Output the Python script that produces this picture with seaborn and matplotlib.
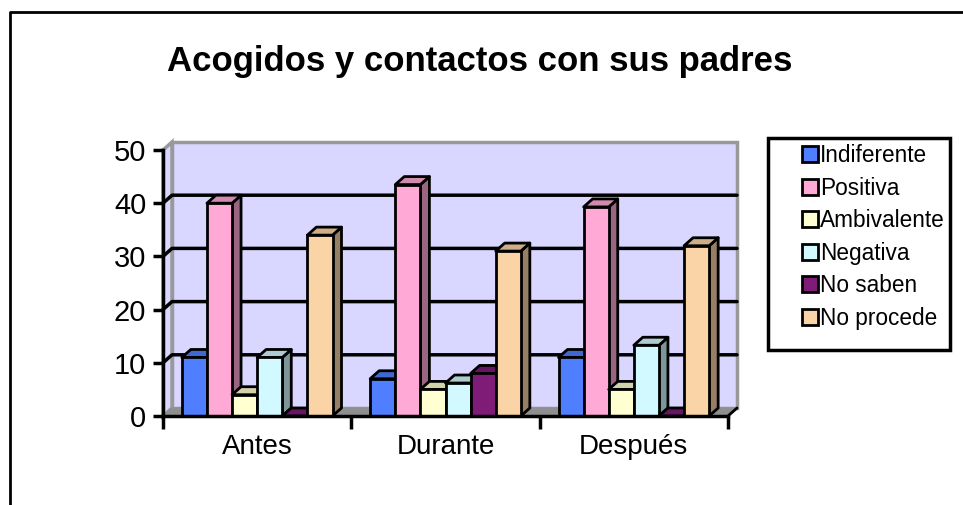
import numpy as np
import pandas as pd
import matplotlib
matplotlib.use("Agg")
import matplotlib.pyplot as plt
from matplotlib.patches import Polygon, Rectangle
from matplotlib.lines import Line2D
from matplotlib.colors import to_rgb
import seaborn as sns

# ---------- data ----------
periodos = ["Antes", "Durante", "Después"]
actitudes = ["Indiferente", "Positiva", "Ambivalente", "Negativa", "No saben", "No procede"]
indiferente = [11, 7, 11]
positiva = [40, 43.5, 39.3]
ambivalente = [4, 5, 5]
negativa = [11, 6.2, 13.3]
no_saben = [0, 8, 0]
no_procede = [34, 31, 32]
colores = ["#4F7FFF", "#FFA9D6", "#FFFFD2", "#D2F9FF", "#7E1C78", "#FAD4A6"]

series = [indiferente, positiva, ambivalente, negativa, no_saben, no_procede]
rows = []
for nombre, vals in zip(actitudes, series):
    for p, v in zip(periodos, vals):
        rows.append({"periodo": p, "actitud": nombre, "valor": v})
df = pd.DataFrame(rows)

sns.set_theme(style="white")
plt.rcParams["font.family"] = ["Liberation Sans", "DejaVu Sans"]

W, H = 963, 505
fig = plt.figure(figsize=(W / 100, H / 100), dpi=100)
ax = fig.add_axes([163 / W, (H - 416) / H, 565 / W, 266 / H])
ax.set_facecolor("none")

sns.barplot(data=df, x="periodo", y="valor", hue="actitud", hue_order=actitudes,
            order=periodos, palette=colores, width=0.8, errorbar=None,
            edgecolor="black", linewidth=2, saturation=1, ax=ax)
ax.set_ylim(0, 50)
ax.set_xlim(-0.5, 2.5)

# depth of the fake 3d in data units (9 px right, 8 px up)
dx = 9 / 565 * 3
dy = 8 / 266 * 50
x0, x1 = -0.5, 2.5

# back wall, side wall and floor
wall = "#D9D6FF"
ax.add_patch(Rectangle((x0 + dx, dy), x1 - x0, 50, facecolor=wall, edgecolor="#999999",
                       lw=2.5, zorder=0, clip_on=False))
ax.add_patch(Polygon([(x0, 0), (x0, 50), (x0 + dx, 50 + dy), (x0 + dx, dy)],
                     facecolor=wall, edgecolor="#999999", lw=2.5, zorder=0.1, clip_on=False))
ax.add_patch(Polygon([(x0, 0), (x1, 0), (x1 + dx, dy), (x0 + dx, dy)],
                     facecolor="#8F8F8F", edgecolor="#8F8F8F", lw=1, zorder=0.2, clip_on=False))
for g in [10, 20, 30, 40]:
    ax.plot([x0, x0 + dx, x1 + dx], [g, g + dy, g + dy], color="black", lw=2.5,
            zorder=0.5, clip_on=False)
ax.plot([x1, x1 + dx], [0, dy], color="black", lw=2, zorder=0.6, clip_on=False)

# 3d faces for each bar
bars = []
for c in ax.containers:
    for p in c.patches:
        bars.append(p)
bars.sort(key=lambda p: p.get_x())
for i, p in enumerate(bars):
    bx, bw, bh = p.get_x(), p.get_width(), p.get_height()
    rgb = np.array(to_rgb(p.get_facecolor()))
    z = 3 + i * 0.1
    ax.add_patch(Polygon([(bx + bw, 0), (bx + bw, bh), (bx + bw + dx, bh + dy), (bx + bw + dx, dy)],
                         facecolor=rgb * 0.6, edgecolor="black", lw=2, zorder=z,
                         joinstyle="round", clip_on=False))
    ax.add_patch(Polygon([(bx, bh), (bx + bw, bh), (bx + bw + dx, bh + dy), (bx + dx, bh + dy)],
                         facecolor=rgb * 0.82, edgecolor="black", lw=2, zorder=z,
                         joinstyle="round", clip_on=False))
    p.set_zorder(z + 0.05)
    p.set_clip_on(False)

# axes
for s in ["top", "right"]:
    ax.spines[s].set_visible(False)
for s in ["left", "bottom"]:
    ax.spines[s].set_color("black")
    ax.spines[s].set_linewidth(2.5)
    ax.spines[s].set_zorder(10)
ax.set_yticks(range(0, 51, 10))
ax.tick_params(axis="y", direction="out", length=7, width=2.5, color="black",
               labelsize=21, pad=5, left=True)
ax.set_xticks([0, 1, 2])
ax.set_xticklabels(periodos)
ax.set_xticks([-0.5, 0.5, 1.5, 2.5], minor=True)
ax.tick_params(axis="x", which="major", length=0, labelsize=20, pad=13)
ax.tick_params(axis="x", which="minor", direction="out", length=9, width=2.5,
               color="black", bottom=True)
ax.set_xlabel("")
ax.set_ylabel("")
for t in ax.get_xticklabels() + ax.get_yticklabels():
    t.set_color("black")

# legend
handles, labels = ax.get_legend_handles_labels()
ax.get_legend().remove()
leg = fig.legend(handles, labels, loc="upper left",
                 bbox_to_anchor=(802 / W, (H - 144) / H), bbox_transform=fig.transFigure,
                 frameon=False, fontsize=16.3, handlelength=0.7, handleheight=0.7,
                 handletextpad=0.1, labelspacing=0.42, borderaxespad=0, borderpad=0,
                 labelcolor="black")
for h in leg.get_patches():
    h.set_edgecolor("black")
    h.set_linewidth(2)
fig.add_artist(Rectangle((768 / W, (H - 350) / H), 182 / W, 212 / H, transform=fig.transFigure,
                         facecolor="none", edgecolor="black", lw=2.5))

# title and outer frame
fig.text(480 / W, (H - 62) / H, "Acogidos y contactos con sus padres", ha="center",
         va="center", fontsize=25, fontweight="bold", color="black")
fig.add_artist(Line2D([10 / W, 10 / W, 1], [0, (H - 12) / H, (H - 12) / H],
                      transform=fig.transFigure, color="black", lw=2))

fig.savefig("out.png", dpi=100)
